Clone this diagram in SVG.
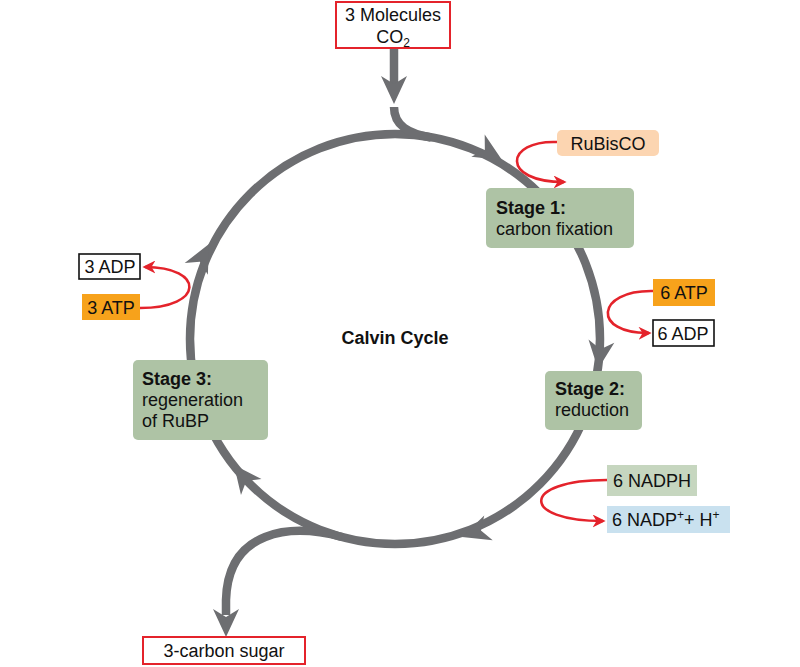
<svg xmlns="http://www.w3.org/2000/svg" width="800" height="667" viewBox="0 0 800 667">
<defs>
<style>
text{font-family:"Liberation Sans",Arial,sans-serif;font-size:18px;fill:#111}
.b{font-weight:bold}
.gray{fill:none;stroke:#6d6e71;stroke-width:8.5}
.ah{fill:#6d6e71}
.red{fill:none;stroke:#e4232b;stroke-width:2.6}
.stage{fill:#aec3a5}
.rbox{fill:#fff;stroke:#e4232b;stroke-width:2}
.kbox{fill:#fff;stroke:#111;stroke-width:1.6}
.atp{fill:#f7a21b}
</style>
<marker id="rh" viewBox="0 0 10 10" refX="8" refY="5" markerWidth="5" markerHeight="5" orient="auto" markerUnits="strokeWidth">
<path d="M0,0 L10,5 L0,10 L3,5 Z" fill="#e4232b"/>
</marker>
<path id="gh" d="M0,0 L-28,-13 L-20,0 L-28,13 Z"/>
</defs>
<rect width="800" height="667" fill="#fff"/>
<g id="connectors">
<circle class="gray" cx="395" cy="339" r="205"/>
<use href="#gh" class="ah" transform="translate(502,160) rotate(31)"/>
<use href="#gh" class="ah" transform="translate(598,369) rotate(97)"/>
<use href="#gh" class="ah" transform="translate(462,537) rotate(161)"/>
<use href="#gh" class="ah" transform="translate(234,465) rotate(232)"/>
<use href="#gh" class="ah" transform="translate(209,244) rotate(297)"/>
<line class="gray" x1="394" y1="48" x2="394" y2="85"/>
<use href="#gh" class="ah" transform="translate(394,104) rotate(90)"/>
<path class="gray" d="M394,107 C394,126 409,133.5 431,137.5"/>
<path class="gray" d="M342,537 C290,523 228,530 226,600 L226,615"/>
<use href="#gh" class="ah" transform="translate(226,637) rotate(90)"/>
<path class="red" d="M557,142 C505,140 500,182 564,182" marker-end="url(#rh)"/>
<path class="red" d="M653,291 C595,290 592,334 649,333" marker-end="url(#rh)"/>
<path class="red" d="M607,480 C520,480 520,521 603,521" marker-end="url(#rh)"/>
<path class="red" d="M140,308 C205,308 205,267 145,267" marker-end="url(#rh)"/>
</g>
<g id="co2">
<rect class="rbox" x="336" y="2" width="114" height="46"/>
<text x="393" y="21" text-anchor="middle">3 Molecules</text>
<text x="393" y="43" text-anchor="middle">CO<tspan font-size="12" dy="4">2</tspan></text>
</g>
<g id="sugar">
<rect class="rbox" x="143" y="637" width="162" height="27"/>
<text x="224" y="657" text-anchor="middle">3-carbon sugar</text>
</g>
<g id="stage1">
<rect class="stage" x="486" y="188" width="148" height="60" rx="5"/>
<text class="b" x="496" y="214">Stage 1:</text>
<text x="496" y="235">carbon fixation</text>
</g>
<g id="stage2">
<rect class="stage" x="545" y="371" width="97" height="59" rx="5"/>
<text class="b" x="555" y="395">Stage 2:</text>
<text x="555" y="416">reduction</text>
</g>
<g id="stage3">
<rect class="stage" x="133" y="360" width="135" height="80" rx="5"/>
<text class="b" x="142" y="385">Stage 3:</text>
<text x="142" y="406">regeneration</text>
<text x="142" y="427">of RuBP</text>
</g>
<g id="calvin">
<text class="b" x="395" y="344" text-anchor="middle">Calvin Cycle</text>
</g>
<g id="rubisco">
<rect x="557" y="130" width="102" height="26" rx="5" fill="#fcd5b1"/>
<text x="608" y="150" text-anchor="middle">RuBisCO</text>
</g>
<g id="atp6">
<rect class="atp" x="653" y="279" width="62" height="27"/>
<text x="684" y="299" text-anchor="middle">6 ATP</text>
</g>
<g id="adp6">
<rect class="kbox" x="653" y="320" width="61" height="26"/>
<text x="683" y="340" text-anchor="middle">6 ADP</text>
</g>
<g id="nadph">
<rect x="607" y="465" width="90" height="31" fill="#c6d6bf"/>
<text x="652" y="487" text-anchor="middle">6 NADPH</text>
</g>
<g id="nadp">
<rect x="607" y="506" width="123" height="27" fill="#c9e1ef"/>
<text x="612" y="526">6 NADP<tspan font-size="12" dy="-7">+</tspan><tspan dy="7">+ H</tspan><tspan font-size="12" dy="-7">+</tspan></text>
</g>
<g id="adp3">
<rect class="kbox" x="79" y="254" width="61" height="25"/>
<text x="110" y="273" text-anchor="middle">3 ADP</text>
</g>
<g id="atp3">
<rect class="atp" x="82" y="294" width="58" height="26"/>
<text x="111" y="314" text-anchor="middle">3 ATP</text>
</g>
</svg>
